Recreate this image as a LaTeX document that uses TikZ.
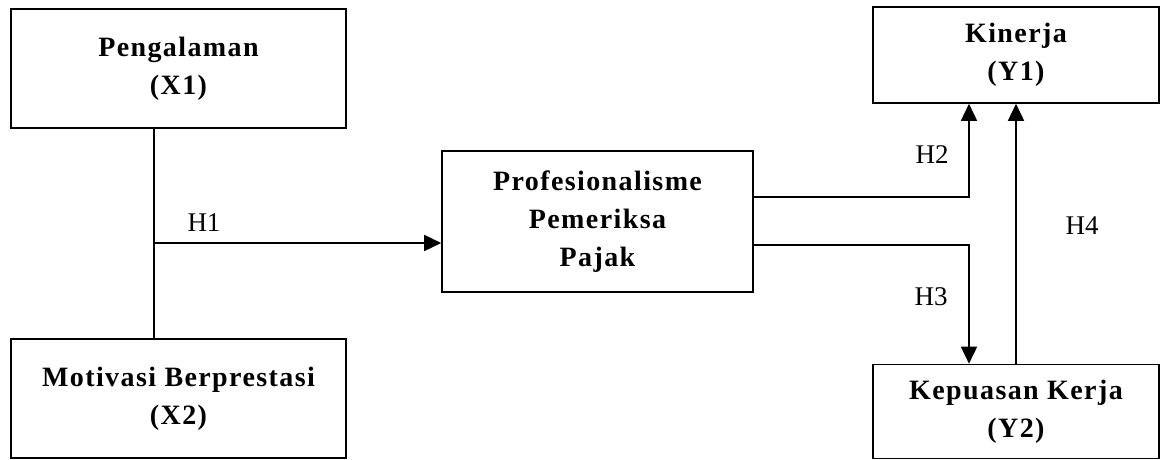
\documentclass[tikz,border=0pt]{standalone}
\usepackage{fontspec}
\setmainfont{Liberation Serif}
\newfontfamily\boxfont{Liberation Serif}[LetterSpace=5]
\usetikzlibrary{arrows.meta}
\begin{document}
\begin{tikzpicture}[x=1pt,y=-1pt,
  box/.style={draw, line width=1.6pt, inner sep=0pt, align=center,
    font=\boxfont\bfseries\fontsize{28}{38}\selectfont},
  conn/.style={line width=1.6pt},
  arr/.style={conn, -{Triangle[length=17pt,width=16pt]}},
  hlab/.style={font=\fontsize{27}{30}\selectfont, inner sep=0pt}]
\useasboundingbox (0,0) rectangle (1160,460);
\node[box, minimum width=335pt, minimum height=119pt] (x1) at (178.5,68.5) {Pengalaman\\(X1)};
\node[box, minimum width=335pt, minimum height=119pt] (x2) at (178.5,398.5) {Motivasi Berprestasi\\(X2)};
\node[box, minimum width=311pt, minimum height=141pt] (pp) at (597.5,221.5) {Profesionalisme\\Pemeriksa\\Pajak};
\node[box, minimum width=286pt, minimum height=96pt] (y1) at (1016,55) {Kinerja\\(Y1)};
\node[box, minimum width=286pt, minimum height=94pt] (y2) at (1016,411.5) {Kepuasan Kerja\\(Y2)};
\coordinate (j) at (154,243);
\coordinate (a2) at (969,197);
\coordinate (a3) at (969,245);
\draw[conn] (j |- x1.south) -- (j |- x2.north);
\draw[arr] (j) -- (j -| pp.west);
\draw[arr] (a2 -| pp.east) -- (a2) -- (a2 |- y1.south);
\draw[arr] (a3 -| pp.east) -- (a3) -- (a3 |- y2.north);
\draw[arr] (y2.north) -- (y1.south);
\node[hlab] (h1) at (204,223) {H1};
\node[hlab] (h2) at (932,155) {H2};
\node[hlab] (h3) at (931,297) {H3};
\node[hlab] (h4) at (1082,226) {H4};
\end{tikzpicture}
\end{document}
